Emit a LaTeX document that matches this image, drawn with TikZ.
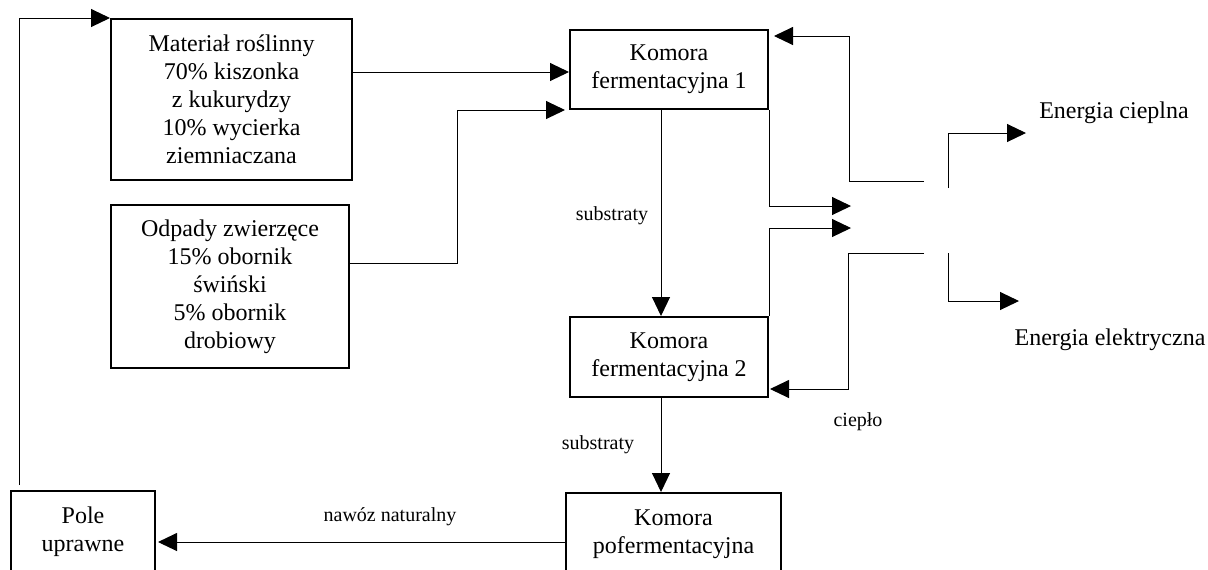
\documentclass[tikz,border=0pt]{standalone}
\usepackage{fontspec}
\setmainfont{Liberation Serif}
\usepackage{tikz}
\usetikzlibrary{calc,arrows.meta,positioning}
\tikzset{
  box/.style={draw, line width=1pt, inner sep=0pt, align=center, text centered,
  font=\fontsize{12}{14}\selectfont},
  lbl/.style={inner sep=0pt, font=\fontsize{10}{12}\selectfont},
  txt/.style={inner sep=0pt, font=\fontsize{12}{14}\selectfont},
  arr/.style={line width=0.5pt, -{Triangle[length=9.5pt,width=9pt]}}
}

\begin{document}
\begin{tikzpicture}[x=0.5pt, y=-0.5pt]
			\useasboundingbox (0,0) rectangle (1208,569);
			\clip (0,0) rectangle (1208,569);
			\node (A) [box,minimum width=120.5pt,minimum height=80.5pt] at 
			(231.5,99.5) {Materiał roślinny\\70\% kiszonka\\z kukurydzy\\10\% wycierka\\ziemniaczana};
			\node (B) [box,minimum width=119pt,minimum height=81.5pt] at 
			(230,286.5) {Odpady zwierzęce\\15\% obornik\\świński\\5\% obornik\\drobiowy};
			\node (C) [box,minimum width=99pt,minimum height=39.5pt] at 
			(669,69.5) {Komora\\fermentacyjna 1};
			\node (D) [box,minimum width=99pt,minimum height=40pt] at 
			(669,357) {Komora\\fermentacyjna 2};
			\node (E) [box,minimum width=107.5pt,minimum height=41pt] at 
			(673.5,534) {Komora\\pofermentacyjna};
			\node (F) [box,minimum width=72pt,minimum height=41pt] at 
			(83,532) {Pole\\uprawne};
			\node (M) [txt] at (1114,113) {Energia cieplna};
			\node (N) [txt] at (1110,340) {Energia elektryczna};
			\node (H) [lbl] at (612,216) {substraty};
			\node (I) [lbl] at (598,445) {substraty};
			\node (J) [lbl] at (390,517) {nawóz naturalny};
			\node (K) [lbl] at (858,422) {ciepło};
			% wolne konce linii
			\coordinate (G) at ($(F.north west)+(9,-5)$);
			\coordinate (P) at (851,206);
			\coordinate (Q) at (851,228);
			\coordinate (R) at (924,181);
			\coordinate (S) at (924,253);
			\coordinate (T) at (948,188);
			\coordinate (U) at (948,253);
			\coordinate (V) at (1026,133);
			\coordinate (W) at (1019,301);
			\draw [arr] (G) |- (A.north west);
			\path ($(A.east)+(0,-27.5)$) edge [arr] ($(C.west)+(0,2.5)$);
			\draw [arr] ($(B.east)+(0,-23.5)$) -| ($(C.south west)+(-112,0)$) 
			-- ($(C.south west)+(-4,0)$);
			\path ($(C.south)+(-8,0)$) edge [arr] ($(D.north)+(-8,0)$);
			\path ($(D.south)+(-8,0)$) edge [arr] ($(E.north)+(-12.5,0)$);
			\path ($(E.west)+(0,8)$) edge [arr] ($(F.east)+(2,10)$);
			\draw [arr] (C.south east) |- (P);
			\draw [arr] (D.north east) |- (Q);
			\draw [arr] (R) -| ($(C.north east)+(80,7)$) -- ($(C.north east)+(5,7)$);
			\draw [arr] (S) -| ($(D.south east)+(79,-9)$) -- ($(D.south east)+(1,-9)$);
			\draw [arr] (T) |- (V);
			\draw [arr] (U) |- (W);
\end{tikzpicture}
\end{document}
